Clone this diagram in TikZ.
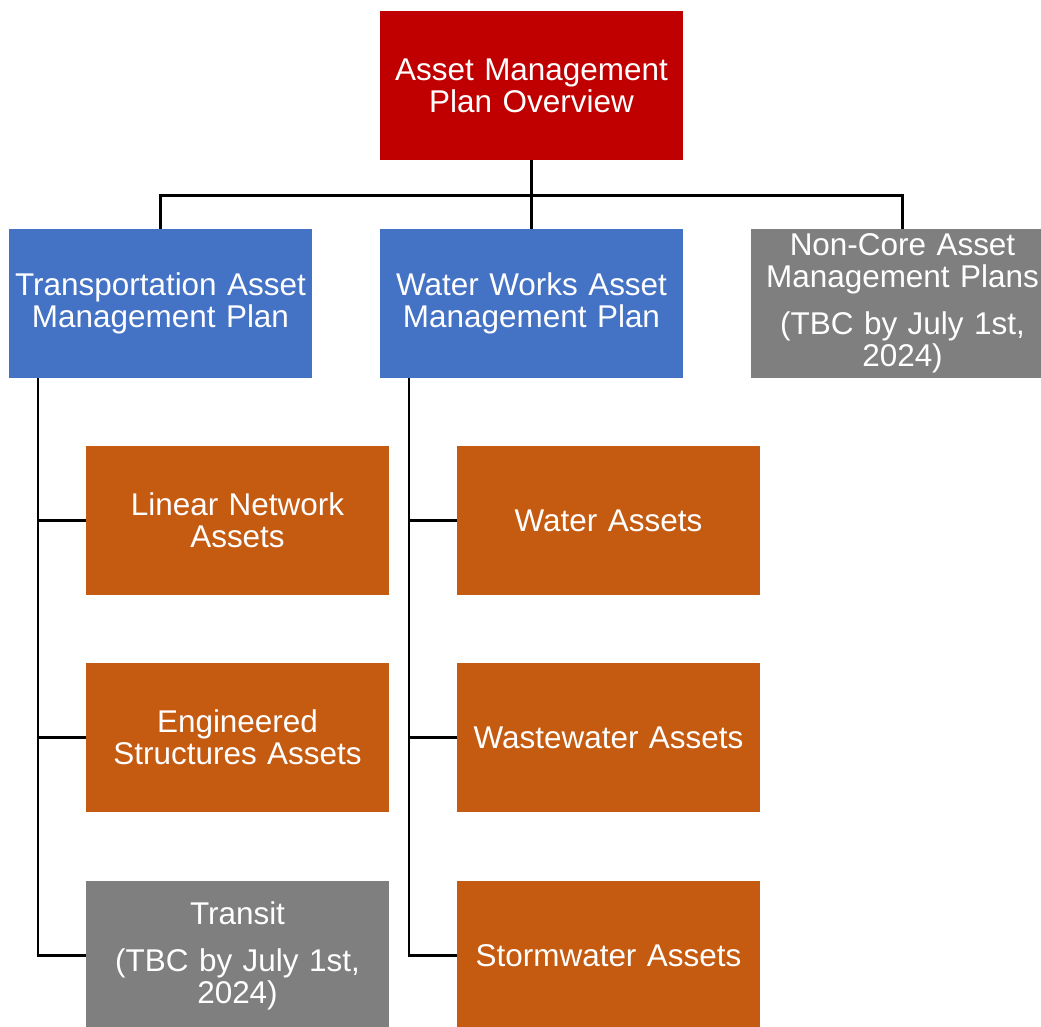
\documentclass[tikz,border=0pt]{standalone}
\usepackage{fontspec}
\setmainfont{Liberation Sans}
\usepackage{tikz}
\usetikzlibrary{calc}

\definecolor{amred}{HTML}{C00000}
\definecolor{amblue}{HTML}{4472C4}
\definecolor{amorange}{HTML}{C55A11}
\definecolor{amgray}{HTML}{7F7F7F}

\begin{document}
\begin{tikzpicture}[
  plan/.style={rectangle, text=white, text width=5.9cm, inner sep=0.08cm,
    minimum width=6.06cm, minimum height=2.98cm, align=center,
    font=\fontsize{17.9pt}{18.3pt}\selectfont},
  link/.style={line width=1.6pt, black}
]

\useasboundingbox (0, 0) rectangle (20.82, -20.52);
\clip (0, 0) rectangle (20.82, -20.52);

\node[plan, fill=amred] (overview) at (10.63, -1.71) {Asset Management\\Plan Overview};

\node[plan, fill=amblue] (transport) at (3.21, -6.07) {Transportation Asset\\Management Plan};
\node[plan, fill=amblue] (water) at (10.63, -6.07) {Water Works Asset\\Management Plan};
\node[plan, fill=amgray] (noncore) at (18.05, -6.07) {Non-Core Asset\\Management Plans\\[0.3cm](TBC by July 1st,\\2024)};

\node[plan, fill=amorange] (linear) at (4.75, -10.41) {Linear Network\\Assets};
\node[plan, fill=amorange] (engineered) at (4.75, -14.75) {Engineered\\Structures Assets};
\node[plan, fill=amgray] (transit) at (4.75, -19.11) {Transit\\[0.3cm](TBC by July 1st,\\2024)};

\node[plan, fill=amorange] (waterassets) at (12.17, -10.41) {Water Assets};
\node[plan, fill=amorange] (wastewater) at (12.17, -14.75) {Wastewater Assets};
\node[plan, fill=amorange] (stormwater) at (12.17, -19.11) {Stormwater Assets};

\coordinate (bus) at ($(overview.south) + (0, -0.7)$);
\coordinate (tspine) at (0.76, -7.56);
\coordinate (wspine) at (8.18, -7.56);

\draw[link] (overview.south) -- (water.north);
\draw[link] (bus) -| (transport.north);
\draw[link] (bus) -| (noncore.north);

\draw[link] (tspine) |- (linear.west);
\draw[link] (tspine) |- (engineered.west);
\draw[link] (tspine) |- (transit.west);

\draw[link] (wspine) |- (waterassets.west);
\draw[link] (wspine) |- (wastewater.west);
\draw[link] (wspine) |- (stormwater.west);

\end{tikzpicture}
\end{document}
